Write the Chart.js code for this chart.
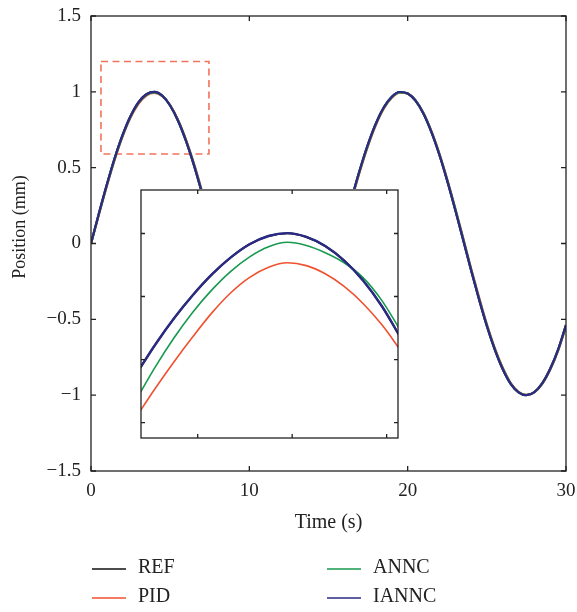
<!DOCTYPE html>
<html>
<head>
<meta charset="utf-8">
<script src="https://cdn.jsdelivr.net/npm/chart.js@4/dist/chart.umd.min.js"></script>
<style>
  html, body { margin: 0; padding: 0; background: #fff; }
  #wrap { position: relative; width: 577px; height: 612px; }
  #chart { position: absolute; left: 0; top: 0; }
  #inset { position: absolute; left: 140px; top: 189px; }
</style>
</head>
<body>
<div id="wrap">
  <canvas id="chart" width="577" height="612"></canvas>
  <canvas id="inset" width="259" height="250"></canvas>
</div>
<script>
// main plot: time (s) and position (mm)
const time = [0, 0.5, 1, 1.5, 2, 2.5, 3, 3.5, 4, 4.5, 5, 5.5, 6, 6.5, 7, 7.5, 8, 8.5, 9, 9.5,
  10, 10.5, 11, 11.5, 12, 12.5, 13, 13.5, 14, 14.5, 15, 15.5, 16, 16.5, 17, 17.5, 18, 18.5, 19, 19.5,
  20, 20.5, 21, 21.5, 22, 22.5, 23, 23.5, 24, 24.5, 25, 25.5, 26, 26.5, 27, 27.5, 28, 28.5, 29, 29.5, 30];

const refPos = [0, 0.199, 0.389, 0.565, 0.717, 0.841, 0.932, 0.985, 1.000, 0.974, 0.909, 0.808, 0.675, 0.516, 0.335, 0.141,
  -0.058, -0.256, -0.443, -0.612, -0.757, -0.872, -0.952, -0.994, -0.996, -0.959, -0.883, -0.773, -0.631, -0.465, -0.279, -0.083,
  0.117, 0.312, 0.494, 0.657, 0.794, 0.899, 0.968, 0.999, 0.989, 0.941, 0.855, 0.734, 0.585, 0.412, 0.223, 0.025,
  -0.175, -0.366, -0.544, -0.699, -0.828, -0.925, -0.981, -1.000, -0.980, -0.921, -0.826, -0.699, -0.537];

const pidPos = [0, 0.190, 0.378, 0.553, 0.706, 0.830, 0.921, 0.976, 0.993, 0.972, 0.912, 0.815, 0.685, 0.528, 0.349, 0.156,
  -0.042, -0.240, -0.428, -0.599, -0.746, -0.863, -0.945, -0.989, -0.994, -0.962, -0.889, -0.781, -0.641, -0.477, -0.292, -0.097,
  0.103, 0.298, 0.481, 0.645, 0.783, 0.890, 0.961, 0.994, 0.988, 0.944, 0.861, 0.742, 0.595, 0.424, 0.236, 0.039,
  -0.161, -0.352, -0.531, -0.688, -0.818, -0.918, -0.978, -0.998, -0.982, -0.926, -0.833, -0.708, -0.548];

const anncPos = [0, 0.195, 0.384, 0.560, 0.712, 0.836, 0.927, 0.980, 0.996, 0.973, 0.910, 0.811, 0.680, 0.522, 0.342, 0.148,
  -0.050, -0.248, -0.436, -0.606, -0.752, -0.868, -0.949, -0.992, -0.995, -0.960, -0.886, -0.777, -0.636, -0.471, -0.285, -0.090,
  0.110, 0.305, 0.488, 0.651, 0.789, 0.895, 0.965, 0.997, 0.989, 0.943, 0.858, 0.738, 0.590, 0.418, 0.230, 0.032,
  -0.168, -0.359, -0.538, -0.694, -0.823, -0.922, -0.980, -0.999, -0.981, -0.924, -0.830, -0.704, -0.543];

const ianncPos = [0, 0.198, 0.388, 0.564, 0.716, 0.840, 0.931, 0.984, 1.000, 0.975, 0.910, 0.809, 0.676, 0.517, 0.336, 0.142,
  -0.057, -0.255, -0.442, -0.611, -0.756, -0.871, -0.952, -0.994, -0.996, -0.959, -0.884, -0.774, -0.632, -0.466, -0.280, -0.084,
  0.116, 0.311, 0.493, 0.656, 0.793, 0.898, 0.968, 0.999, 0.989, 0.942, 0.856, 0.735, 0.586, 0.413, 0.224, 0.026,
  -0.174, -0.365, -0.543, -0.698, -0.827, -0.924, -0.981, -1.000, -0.980, -0.922, -0.827, -0.700, -0.538];

const xTicks = [0, 10, 20, 30];
const yTicks = [-1.5, -1, -0.5, 0, 0.5, 1, 1.5];

// dashed zoom box on the main axes (data units)
const zoomBoxX = [0.63, 7.45];
const zoomBoxY = [0.59, 1.2];

// inset: zoomed view around the first peak
const insetTime  = [3.67, 3.71, 3.75, 3.79, 3.83, 3.87, 3.91, 3.95, 3.99, 4.03, 4.07, 4.11, 4.15, 4.19, 4.23];
const insetRef   = [0.99554, 0.99647, 0.99731, 0.99805, 0.99870, 0.99924, 0.99966, 0.99992, 1.00001, 0.99989, 0.99960, 0.99914, 0.99851, 0.99769, 0.99668];
const insetPid   = [0.99418, 0.99508, 0.99593, 0.99673, 0.99748, 0.99812, 0.99861, 0.99893, 0.99907, 0.99898, 0.99872, 0.99832, 0.99778, 0.99710, 0.99628];
const insetAnnc  = [0.99473, 0.99576, 0.99669, 0.99751, 0.99821, 0.99880, 0.99926, 0.99958, 0.99972, 0.99962, 0.99939, 0.99907, 0.99860, 0.99787, 0.99690];
const insetIannc = [0.99554, 0.99647, 0.99731, 0.99805, 0.99870, 0.99924, 0.99966, 0.99992, 1.00001, 0.99989, 0.99960, 0.99914, 0.99851, 0.99769, 0.99668];
const insetXTicks = [3.8, 4.0, 4.2];
const insetYTicks = [0.994, 0.996, 0.998, 1.000];

const seriesNames = ['REF', 'PID', 'ANNC', 'IANNC'];
const seriesColors = ['#111111', '#f0512f', '#17994f', '#2b2a85'];

const FONT = "'Liberation Serif', 'Times New Roman', serif";
const TEXT = '#222';
const AXIS = '#222';

function pts(xs, ys) {
  return ys.map((v, i) => ({ x: xs[i], y: v }));
}

function makeDatasets(xs, cols, widths) {
  // IANNC on top, REF at the bottom
  return cols.map((ys, i) => ({
    label: seriesNames[i],
    data: pts(xs, ys),
    borderColor: seriesColors[i],
    borderWidth: widths[i],
    pointRadius: 0,
    fill: false,
    cubicInterpolationMode: 'monotone',
    order: cols.length - i
  }));
}

function fmtTick(v) {
  return v < 0 ? '\u2212' + String(-v) : String(v);
}

// keep the axes box where it is, edge tick labels may overflow
function noPad(s) {
  s.paddingLeft = 0; s.paddingRight = 0; s.paddingTop = 0; s.paddingBottom = 0;
}

// box round the axes, with MATLAB-style ticks pointing inwards on all four sides
function boxTicks(xList, yList, len) {
  return {
    id: 'boxTicks',
    afterDatasetsDraw(chart) {
      const { ctx, chartArea: a, scales } = chart;
      ctx.save();
      ctx.strokeStyle = AXIS;
      ctx.lineWidth = 1.3;
      ctx.beginPath();
      xList.forEach(v => {
        const px = scales.x.getPixelForValue(v);
        ctx.moveTo(px, a.bottom); ctx.lineTo(px, a.bottom - len);
        ctx.moveTo(px, a.top); ctx.lineTo(px, a.top + len);
      });
      yList.forEach(v => {
        const py = scales.y.getPixelForValue(v);
        ctx.moveTo(a.left, py); ctx.lineTo(a.left + len, py);
        ctx.moveTo(a.right, py); ctx.lineTo(a.right - len, py);
      });
      ctx.stroke();
      ctx.strokeRect(a.left, a.top, a.right - a.left, a.bottom - a.top);
      ctx.restore();
    }
  };
}

const zoomBoxPlugin = {
  id: 'zoomBox',
  beforeDatasetsDraw(chart) {
    const { ctx, scales } = chart;
    const x0 = scales.x.getPixelForValue(zoomBoxX[0]);
    const x1 = scales.x.getPixelForValue(zoomBoxX[1]);
    const y0 = scales.y.getPixelForValue(zoomBoxY[1]);
    const y1 = scales.y.getPixelForValue(zoomBoxY[0]);
    ctx.save();
    ctx.strokeStyle = '#f2735c';
    ctx.lineWidth = 1.6;
    ctx.setLineDash([7, 4.5]);
    ctx.strokeRect(x0, y0, x1 - x0, y1 - y0);
    ctx.restore();
  }
};

// y title and the 2x2 legend under the axes
const textPlugin = {
  id: 'extraText',
  afterDraw(chart) {
    const { ctx } = chart;
    ctx.save();
    ctx.fillStyle = TEXT;
    ctx.font = '18px ' + FONT;
    ctx.textAlign = 'center';
    ctx.textBaseline = 'middle';
    ctx.translate(20, 227);
    ctx.rotate(-Math.PI / 2);
    ctx.fillText('Position (mm)', 0, 0);
    ctx.restore();

    const colX = [92, 327];
    const rowY = [569, 598];
    ctx.save();
    ctx.font = '20px ' + FONT;
    ctx.textBaseline = 'middle';
    ctx.textAlign = 'left';
    seriesNames.forEach((name, i) => {
      const x = colX[Math.floor(i / 2)];
      const y = rowY[i % 2];
      ctx.strokeStyle = seriesColors[i];
      ctx.lineWidth = 1.6;
      ctx.beginPath();
      ctx.moveTo(x, y);
      ctx.lineTo(x + 34, y);
      ctx.stroke();
      ctx.fillStyle = TEXT;
      ctx.fillText(name, x + 46, y - 1);
    });
    ctx.restore();
  }
};

new Chart(document.getElementById('chart').getContext('2d'), {
  type: 'line',
  data: { datasets: makeDatasets(time, [refPos, pidPos, anncPos, ianncPos], [2.2, 2.2, 2.2, 2.2]) },
  options: {
    responsive: false,
    animation: false,
    events: [],
    layout: { padding: { left: 0, right: 11, top: 16, bottom: 0 } },
    plugins: { legend: { display: false }, tooltip: { enabled: false } },
    scales: {
      x: {
        type: 'linear', min: 0, max: 30,
        afterBuildTicks: s => { s.ticks = xTicks.map(v => ({ value: v })); },
        afterFit: s => { s.height = 141; noPad(s); },
        grid: { display: false, drawTicks: false },
        border: { display: false },
        ticks: { font: { family: FONT, size: 19 }, color: TEXT, padding: 9, maxRotation: 0, autoSkip: false },
        title: { display: true, text: 'Time (s)', color: TEXT, font: { family: FONT, size: 20 }, padding: { top: 0, bottom: 77 } }
      },
      y: {
        type: 'linear', min: -1.5, max: 1.5,
        afterBuildTicks: s => { s.ticks = yTicks.map(v => ({ value: v })); },
        afterFit: s => { s.width = 91; noPad(s); },
        grid: { display: false, drawTicks: false },
        border: { display: false },
        ticks: { font: { family: FONT, size: 19 }, color: TEXT, padding: 10, callback: v => fmtTick(v) }
      }
    }
  },
  plugins: [zoomBoxPlugin, boxTicks(xTicks, yTicks, 5), textPlugin]
});

const insetBg = {
  id: 'insetBg',
  beforeDraw(chart) {
    const { ctx, width, height } = chart;
    ctx.save();
    ctx.fillStyle = '#fff';
    ctx.fillRect(0, 0, width, height);
    ctx.restore();
  }
};

new Chart(document.getElementById('inset').getContext('2d'), {
  type: 'line',
  data: { datasets: makeDatasets(insetTime, [insetRef, insetPid, insetAnnc, insetIannc], [2, 1.6, 1.6, 2.4]) },
  options: {
    responsive: false,
    animation: false,
    events: [],
    layout: { padding: 1 },
    plugins: { legend: { display: false }, tooltip: { enabled: false } },
    scales: {
      x: {
        type: 'linear', min: 3.680, max: 4.224,
        afterFit: s => { s.height = 0; noPad(s); },
        grid: { display: false, drawTicks: false },
        border: { display: false },
        ticks: { display: false }
      },
      y: {
        type: 'linear', min: 0.99351, max: 1.00138,
        afterFit: s => { s.width = 0; noPad(s); },
        grid: { display: false, drawTicks: false },
        border: { display: false },
        ticks: { display: false }
      }
    }
  },
  plugins: [insetBg, boxTicks(insetXTicks, insetYTicks, 4)]
});
</script>
</body>
</html>
